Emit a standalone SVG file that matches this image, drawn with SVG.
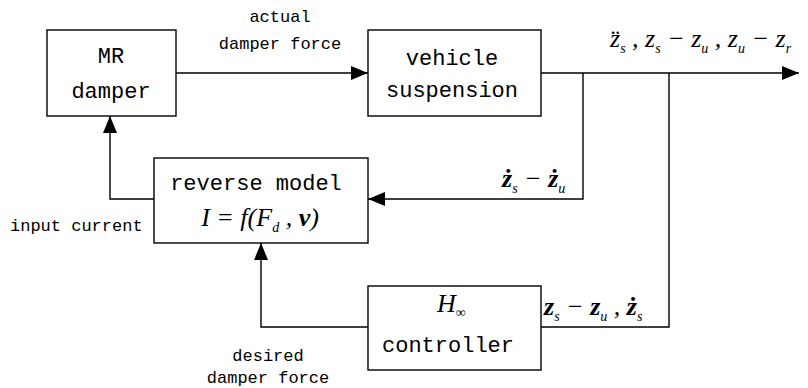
<svg xmlns="http://www.w3.org/2000/svg" width="808" height="388" viewBox="0 0 808 388">
<defs>
<marker id="ah" markerUnits="userSpaceOnUse" markerWidth="18" markerHeight="14" refX="17" refY="7" orient="auto">
<path d="M0,0 L17,7 L0,14 Z" fill="#000"/>
</marker>
<style>
.box{fill:#fff;stroke:#000;stroke-width:1.4}
.lbl{font-family:"Liberation Mono",monospace;font-size:17px;fill:#000}
.bt{font-family:"Liberation Mono",monospace;font-size:22px;fill:#000;text-anchor:middle}
.m{font-family:"Liberation Serif","Times New Roman",serif;font-style:italic;font-size:26px;fill:#000}
.sub{font-size:14px}
.c{fill:none;stroke:#000;stroke-width:1.4}
</style>
</defs>
<rect width="808" height="388" fill="#fff"/>
<g id="connectors">
<path class="c" d="M176,73 H368" marker-end="url(#ah)"/>
<path class="c" d="M541,73 H799" marker-end="url(#ah)"/>
<path class="c" d="M583,73 V199 H368" marker-end="url(#ah)"/>
<path class="c" d="M669,73 V327 H541"/>
<path class="c" d="M368,327 H261 V243" marker-end="url(#ah)"/>
<path class="c" d="M154,199 H110 V116" marker-end="url(#ah)"/>
</g>
<g id="mr-damper">
<rect class="box" x="47" y="30" width="129" height="86"/>
<text class="bt" x="111" y="63">MR</text>
<text class="bt" x="111" y="98">damper</text>
</g>
<g id="vehicle-suspension">
<rect class="box" x="368" y="30" width="173" height="86"/>
<text class="bt" x="452" y="65">vehicle</text>
<text class="bt" x="452" y="97">suspension</text>
</g>
<g id="reverse-model">
<rect class="box" x="154" y="158" width="214" height="85"/>
<text class="bt" x="256" y="190">reverse model</text>
<text class="m" x="260" y="226" text-anchor="middle" font-size="28">I = f(F<tspan class="sub" dy="6">d</tspan><tspan dy="-6"> , </tspan><tspan font-weight="bold">v</tspan>)</text>
</g>
<g id="controller">
<rect class="box" x="368" y="286" width="173" height="84"/>
<text class="m" x="437" y="312">H<tspan class="sub" dy="5" font-style="normal">∞</tspan></text>
<text class="bt" x="448" y="352">controller</text>
</g>
<g id="labels">
<text class="lbl" x="280" y="22" text-anchor="middle">actual</text>
<text class="lbl" x="280" y="49" text-anchor="middle">damper force</text>
<text class="lbl" x="10" y="231">input current</text>
<text class="lbl" x="268" y="361" text-anchor="middle">desired</text>
<text class="lbl" x="268" y="383" text-anchor="middle">damper force</text>
<text class="m" x="610" y="47">z̈<tspan class="sub" dy="6">s</tspan><tspan dy="-6"> , z</tspan><tspan class="sub" dy="6">s</tspan><tspan dy="-6"> − z</tspan><tspan class="sub" dy="6">u</tspan><tspan dy="-6"> , z</tspan><tspan class="sub" dy="6">u</tspan><tspan dy="-6"> − z</tspan><tspan class="sub" dy="6">r</tspan></text>
<text class="m" x="502" y="187" font-weight="bold">ż<tspan class="sub" dy="6" font-weight="normal">s</tspan><tspan dy="-6" font-weight="normal"> − </tspan><tspan>ż</tspan><tspan class="sub" dy="6" font-weight="normal">u</tspan></text>
<text class="m" x="544" y="315" font-weight="bold">z<tspan class="sub" dy="6" font-weight="normal">s</tspan><tspan dy="-6" font-weight="normal"> − </tspan><tspan>z</tspan><tspan class="sub" dy="6" font-weight="normal">u</tspan><tspan dy="-6" font-weight="normal"> , </tspan><tspan>ż</tspan><tspan class="sub" dy="6" font-weight="normal">s</tspan></text>
</g>
</svg>
